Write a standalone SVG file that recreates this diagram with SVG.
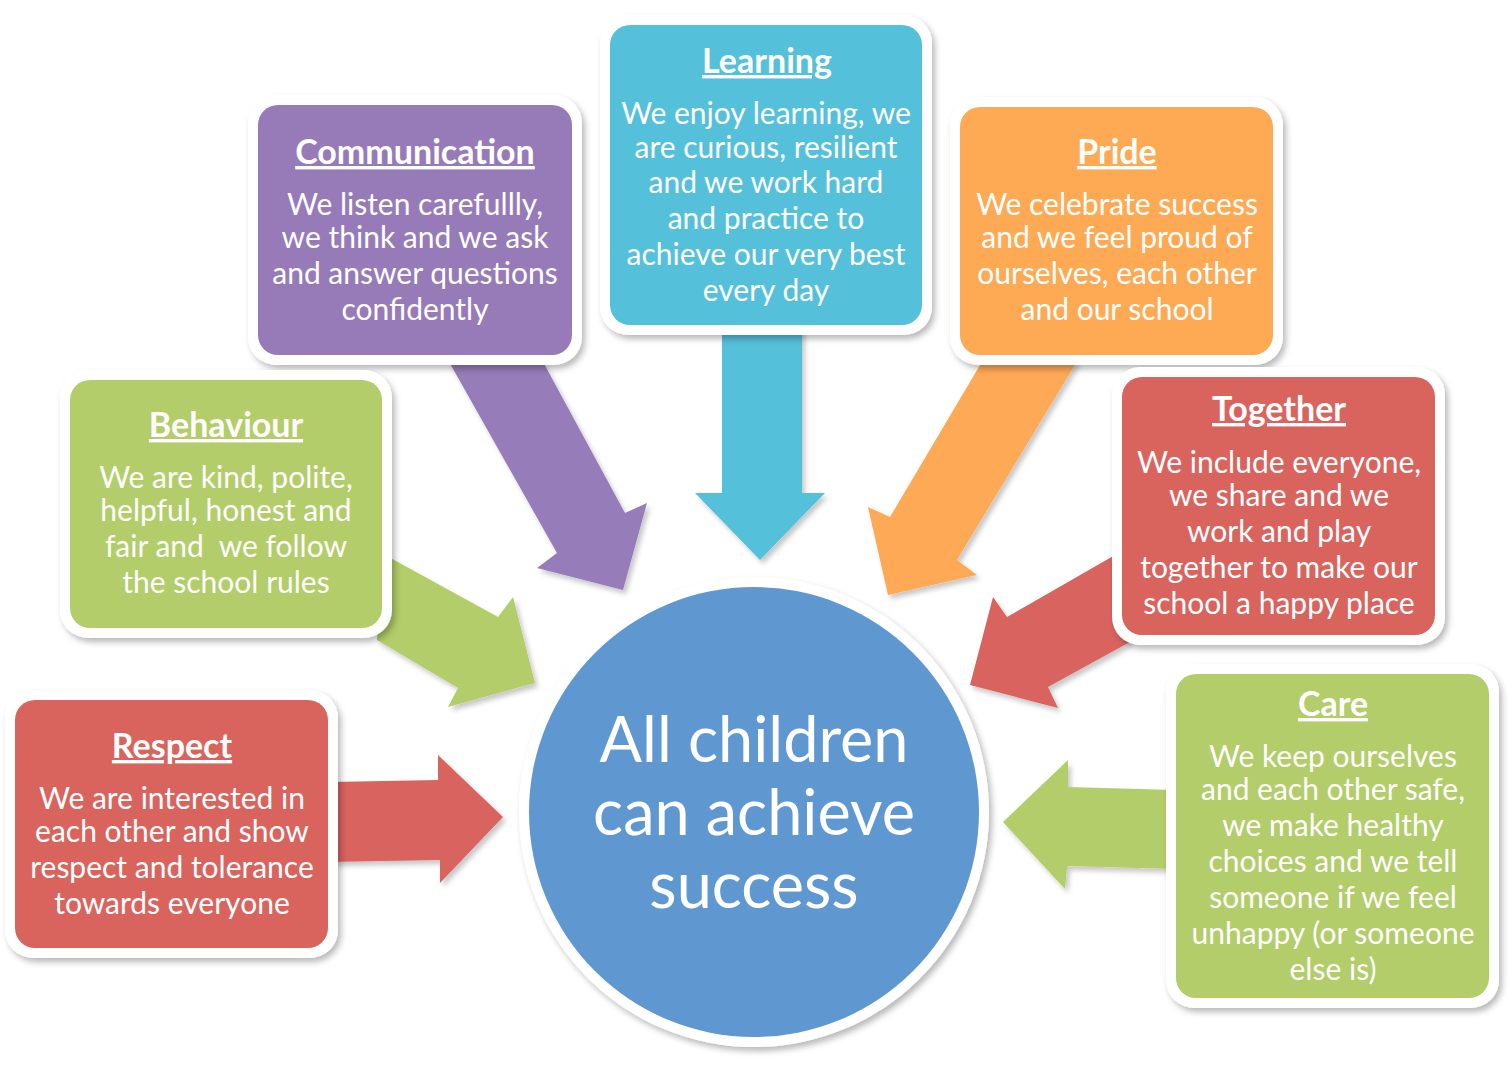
<svg xmlns="http://www.w3.org/2000/svg" width="1512" height="1072" viewBox="0 0 1512 1072">
<defs>
<filter id="sh" x="-10%" y="-10%" width="125%" height="125%">
<feDropShadow dx="3" dy="4" stdDeviation="3" flood-color="#000" flood-opacity="0.28"/>
</filter>
<filter id="ash" x="-10%" y="-10%" width="125%" height="125%">
<feDropShadow dx="3" dy="4" stdDeviation="2.5" flood-color="#000" flood-opacity="0.22"/>
</filter>
</defs>
<style>
.frame{fill:#fff;}
.t{font-family:Lato,"Open Sans",sans-serif;fill:#fff;text-anchor:middle;}
.h{font-size:34px;font-weight:bold;text-decoration:underline;}
.b{font-size:30px;}
.c{font-size:63px;}
.purple{fill:#967BB8;}
.cyan{fill:#55C0DA;}
.orange{fill:#FEA954;}
.green{fill:#B2CD69;}
.red{fill:#D9645E;}
.blue{fill:#5F98D1;}
</style>
<rect width="1512" height="1072" fill="#fff"/>
<g id="connectors" filter="url(#ash)">
<path class="red" d="M330,782 L438,780 L438,755 L503,817 L440,883 L440,860 L330,862 Z"/>
<path class="green" d="M1175,790 L1068,787 L1068,760 L1003,822 L1065,889 L1067,866 L1175,869 Z"/>
<path class="cyan" d="M722,325 L802,325 L802,493 L825,493 L760,560 L695,493 L722,493 Z"/>
<path class="purple" d="M448,360 L542,360 L625,513 L647,503 L623,590 L537,568 L557,553 Z"/>
<path class="green" d="M385,555 L498,617 L513,597 L535,683 L448,707 L458,688 L377,640 Z"/>
<path class="orange" d="M983,360 L1078,360 L957,560 L977,575 L888,595 L868,507 L890,517 Z"/>
<path class="red" d="M1115,555 L1007,617 L993,597 L970,685 L1058,708 L1048,687 L1130,642 Z"/>
</g>
<g id="center">
<circle cx="754" cy="812" r="235" class="frame" filter="url(#sh)"/>
<circle cx="754" cy="812" r="225" class="blue"/>
<text class="t c" x="754" y="762">All children</text>
<text class="t c" x="754" y="835">can achieve</text>
<text class="t c" x="754" y="908">success</text>
</g>
<g id="learning">
<rect x="600" y="15" width="332" height="320" rx="28" class="frame" filter="url(#sh)"/>
<rect x="610" y="25" width="312" height="300" rx="20" class="cyan"/>
<text class="t h" x="767" y="73">Learning</text>
<text class="t b" x="766" y="124">We enjoy learning, we</text>
<text class="t b" x="766" y="158">are curious, resilient</text>
<text class="t b" x="766" y="193">and we work hard</text>
<text class="t b" x="766" y="229">and practice to</text>
<text class="t b" x="766" y="265">achieve our very best</text>
<text class="t b" x="766" y="301">every day</text>
</g>
<g id="communication">
<rect x="248" y="95" width="334" height="270" rx="28" class="frame" filter="url(#sh)"/>
<rect x="258" y="105" width="314" height="250" rx="20" class="purple"/>
<text class="t h" x="415" y="164">Communication</text>
<text class="t b" x="415" y="215">We listen carefullly,</text>
<text class="t b" x="415" y="248">we think and we ask</text>
<text class="t b" x="415" y="284">and answer questions</text>
<text class="t b" x="415" y="320">confidently</text>
</g>
<g id="pride">
<rect x="950" y="97" width="333" height="268" rx="28" class="frame" filter="url(#sh)"/>
<rect x="960" y="107" width="313" height="248" rx="20" class="orange"/>
<text class="t h" x="1117" y="164">Pride</text>
<text class="t b" x="1117" y="215">We celebrate success</text>
<text class="t b" x="1117" y="248">and we feel proud of</text>
<text class="t b" x="1117" y="284">ourselves, each other</text>
<text class="t b" x="1117" y="320">and our school</text>
</g>
<g id="behaviour">
<rect x="60" y="370" width="332" height="268" rx="28" class="frame" filter="url(#sh)"/>
<rect x="70" y="380" width="312" height="248" rx="20" class="green"/>
<text class="t h" x="226" y="437">Behaviour</text>
<text class="t b" x="226" y="488">We are kind, polite,</text>
<text class="t b" x="226" y="521">helpful, honest and</text>
<text class="t b" x="226" y="557" xml:space="preserve">fair and  we follow</text>
<text class="t b" x="226" y="593">the school rules</text>
</g>
<g id="together">
<rect x="1112" y="367" width="333" height="278" rx="28" class="frame" filter="url(#sh)"/>
<rect x="1122" y="377" width="313" height="258" rx="20" class="red"/>
<text class="t h" x="1279" y="421">Together</text>
<text class="t b" x="1279" y="473">We include everyone,</text>
<text class="t b" x="1279" y="506">we share and we</text>
<text class="t b" x="1279" y="542">work and play</text>
<text class="t b" x="1279" y="578">together to make our</text>
<text class="t b" x="1279" y="614">school a happy place</text>
</g>
<g id="respect">
<rect x="5" y="690" width="333" height="268" rx="28" class="frame" filter="url(#sh)"/>
<rect x="15" y="700" width="313" height="248" rx="20" class="red"/>
<text class="t h" x="172" y="758">Respect</text>
<text class="t b" x="172" y="809">We are interested in</text>
<text class="t b" x="172" y="842">each other and show</text>
<text class="t b" x="172" y="878">respect and tolerance</text>
<text class="t b" x="172" y="914">towards everyone</text>
</g>
<g id="care">
<rect x="1166" y="664" width="333" height="344" rx="28" class="frame" filter="url(#sh)"/>
<rect x="1176" y="674" width="313" height="324" rx="20" class="green"/>
<text class="t h" x="1333" y="716">Care</text>
<text class="t b" x="1333" y="767">We keep ourselves</text>
<text class="t b" x="1333" y="800">and each other safe,</text>
<text class="t b" x="1333" y="836">we make healthy</text>
<text class="t b" x="1333" y="872">choices and we tell</text>
<text class="t b" x="1333" y="908">someone if we feel</text>
<text class="t b" x="1333" y="944">unhappy (or someone</text>
<text class="t b" x="1333" y="980">else is)</text>
</g>
</svg>
